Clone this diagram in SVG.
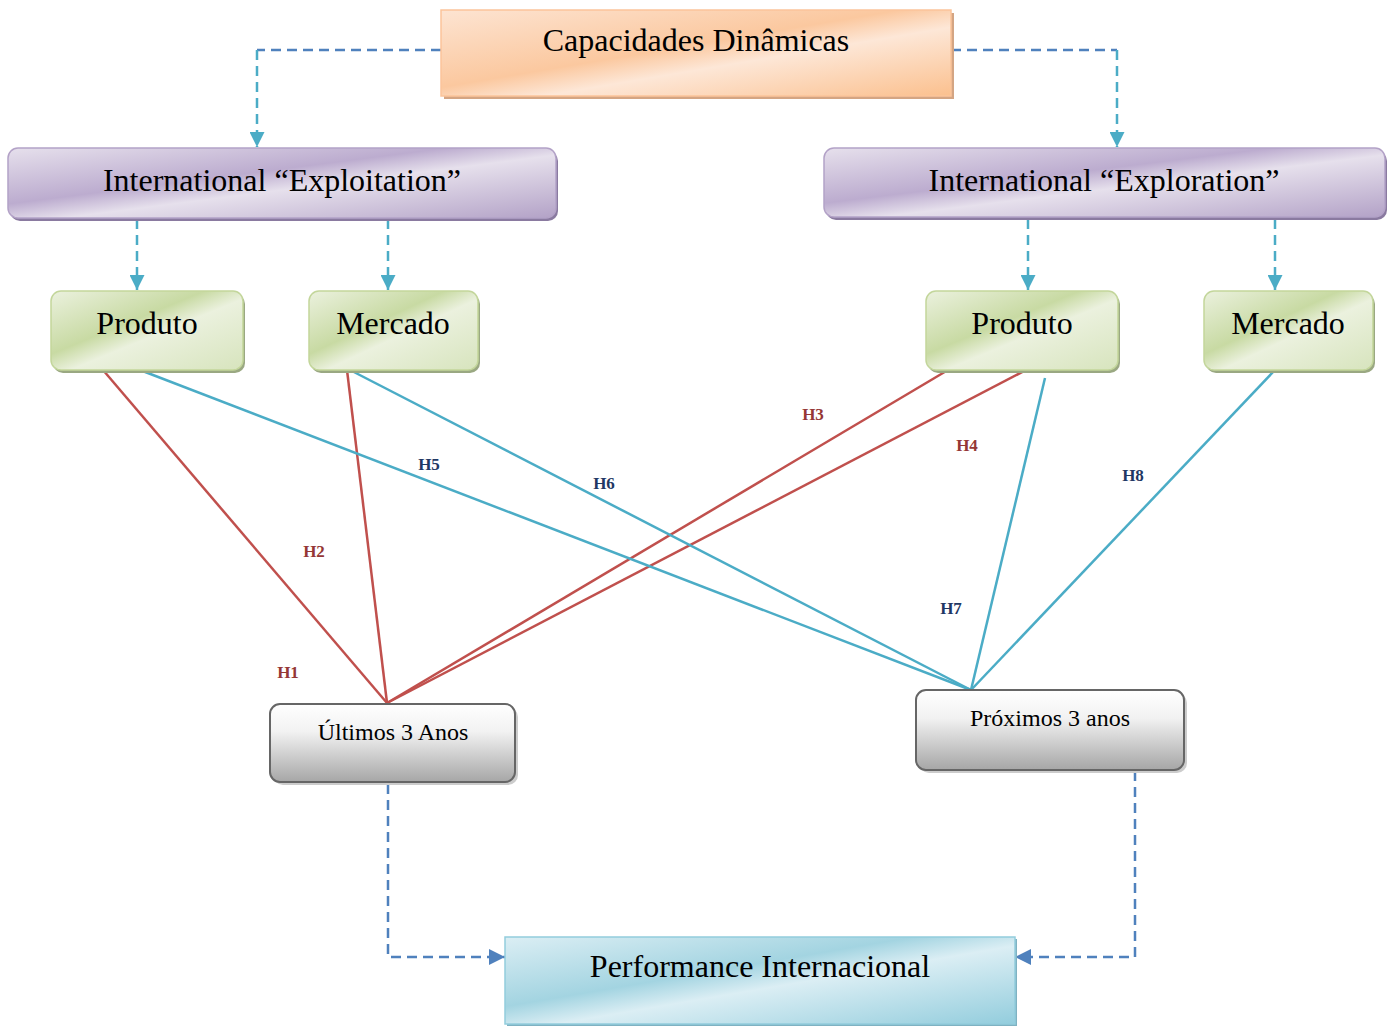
<svg xmlns="http://www.w3.org/2000/svg" width="1395" height="1026" viewBox="0 0 1395 1026">
  <defs>
    <linearGradient id="gOrange" x1="0" y1="0" x2="1" y2="1">
      <stop offset="0" stop-color="#fde4d2"/>
      <stop offset="0.45" stop-color="#fbc89f"/>
      <stop offset="0.6" stop-color="#fde7d7"/>
      <stop offset="1" stop-color="#fbc08e"/>
    </linearGradient>
    <linearGradient id="gPurple" x1="0" y1="0" x2="1" y2="1">
      <stop offset="0" stop-color="#e6e0ec"/>
      <stop offset="0.4" stop-color="#bcaccf"/>
      <stop offset="0.55" stop-color="#e6e0ec"/>
      <stop offset="1" stop-color="#b3a2c7"/>
    </linearGradient>
    <linearGradient id="gGreen" x1="0" y1="0" x2="1" y2="1">
      <stop offset="0" stop-color="#ebf1de"/>
      <stop offset="0.4" stop-color="#c8daa3"/>
      <stop offset="0.55" stop-color="#ebf1de"/>
      <stop offset="1" stop-color="#d7e4bd"/>
    </linearGradient>
    <linearGradient id="gGrey" x1="0" y1="0" x2="0" y2="1">
      <stop offset="0" stop-color="#ffffff"/>
      <stop offset="0.35" stop-color="#f2f2f2"/>
      <stop offset="1" stop-color="#a6a6a6"/>
    </linearGradient>
    <linearGradient id="gTeal" x1="0" y1="0" x2="1" y2="1">
      <stop offset="0" stop-color="#dbeef4"/>
      <stop offset="0.4" stop-color="#a3d4e1"/>
      <stop offset="0.55" stop-color="#dbeef4"/>
      <stop offset="1" stop-color="#93cddd"/>
    </linearGradient>
    <marker id="arrTeal" viewBox="0 0 10 10" refX="10" refY="5" markerWidth="15" markerHeight="15" markerUnits="userSpaceOnUse" orient="auto">
      <path d="M0,0 L10,5 L0,10 z" fill="#4bacc6"/>
    </marker>
    <marker id="arrBlue" viewBox="0 0 10 10" refX="10" refY="5" markerWidth="16" markerHeight="16" markerUnits="userSpaceOnUse" orient="auto">
      <path d="M0,0 L10,5 L0,10 z" fill="#4f81bd"/>
    </marker>
  </defs>
  <style>
    text { font-family: "Liberation Serif", "Times New Roman", serif; fill: #000; text-anchor: middle; }
    .big { font-size: 32px; }
    .small { font-size: 24px; }
    .hl { font-size: 17px; font-weight: bold; }
    .hr { fill: #953735; }
    .hb { fill: #1f3864; }
    .dashT { fill: none; stroke: #4bacc6; stroke-width: 2.5; stroke-dasharray: 10 6; }
    .dashB { fill: none; stroke: #4f81bd; stroke-width: 2.5; stroke-dasharray: 10 6; }
    .red { stroke: #c0504d; stroke-width: 2.5; fill: none; }
    .cyan { stroke: #4bacc6; stroke-width: 2.5; fill: none; }
  </style>
  <rect width="1395" height="1026" fill="#ffffff"/>

  <!-- connectors -->
  <g id="connectors">
    <path class="dashB" d="M441,50 H257"/>
    <path class="dashT" d="M257,50 V147" marker-end="url(#arrTeal)"/>
    <path class="dashB" d="M951,50 H1117"/>
    <path class="dashT" d="M1117,50 V147" marker-end="url(#arrTeal)"/>
    <path class="dashT" d="M137,219 V290" marker-end="url(#arrTeal)"/>
    <path class="dashT" d="M388,219 V290" marker-end="url(#arrTeal)"/>
    <path class="dashT" d="M1028,219 V290" marker-end="url(#arrTeal)"/>
    <path class="dashT" d="M1275,219 V290" marker-end="url(#arrTeal)"/>

    <line class="red" x1="103" y1="370" x2="387" y2="703"/>
    <line class="red" x1="347" y1="370" x2="387" y2="703"/>
    <line class="red" x1="948" y1="370" x2="387" y2="703"/>
    <line class="red" x1="1028" y1="369" x2="387" y2="703"/>
    <line class="cyan" x1="140" y1="370" x2="971" y2="690"/>
    <line class="cyan" x1="350" y1="370" x2="971" y2="690"/>
    <line class="cyan" x1="1045" y1="378" x2="971" y2="690"/>
    <line class="cyan" x1="1275" y1="370" x2="971" y2="690"/>

    <path class="dashB" d="M388,784 V957 H505" marker-end="url(#arrBlue)"/>
    <path class="dashB" d="M1135,771 V957 H1015" marker-end="url(#arrBlue)"/>

    <text class="hl hr" x="288" y="678">H1</text>
    <text class="hl hr" x="314" y="557">H2</text>
    <text class="hl hr" x="813" y="420">H3</text>
    <text class="hl hr" x="967" y="451">H4</text>
    <text class="hl hb" x="429" y="470">H5</text>
    <text class="hl hb" x="604" y="489">H6</text>
    <text class="hl hb" x="951" y="614">H7</text>
    <text class="hl hb" x="1133" y="481">H8</text>
  </g>

  <g id="capacidades">
    <rect x="444" y="13" width="510" height="86" fill="#d4a583"/>
    <rect x="441" y="10" width="510" height="86" fill="url(#gOrange)" stroke="#fbc49a" stroke-width="1.5"/>
    <text class="big" x="696" y="51">Capacidades Dinâmicas</text>
  </g>

  <g id="exploitation">
    <rect x="10" y="151" width="548" height="70" rx="10" fill="#8a7aa0"/>
    <rect x="8" y="148" width="548" height="70" rx="10" fill="url(#gPurple)" stroke="#b3a2c7" stroke-width="1.5"/>
    <text class="big" x="282" y="191">International “Exploitation”</text>
  </g>

  <g id="exploration">
    <rect x="826" y="151" width="561" height="69" rx="10" fill="#8a7aa0"/>
    <rect x="824" y="148" width="561" height="69" rx="10" fill="url(#gPurple)" stroke="#b3a2c7" stroke-width="1.5"/>
    <text class="big" x="1104" y="191">International “Exploration”</text>
  </g>

  <g id="produto-left">
    <rect x="53" y="294" width="192" height="79" rx="10" fill="#9aa882"/>
    <rect x="51" y="291" width="192" height="79" rx="10" fill="url(#gGreen)" stroke="#c3d69b" stroke-width="1.5"/>
    <text class="big" x="147" y="334">Produto</text>
  </g>

  <g id="mercado-left">
    <rect x="311" y="294" width="169" height="79" rx="10" fill="#9aa882"/>
    <rect x="309" y="291" width="169" height="79" rx="10" fill="url(#gGreen)" stroke="#c3d69b" stroke-width="1.5"/>
    <text class="big" x="393" y="334">Mercado</text>
  </g>

  <g id="produto-right">
    <rect x="928" y="294" width="192" height="79" rx="10" fill="#9aa882"/>
    <rect x="926" y="291" width="192" height="79" rx="10" fill="url(#gGreen)" stroke="#c3d69b" stroke-width="1.5"/>
    <text class="big" x="1022" y="334">Produto</text>
  </g>

  <g id="mercado-right">
    <rect x="1206" y="294" width="169" height="79" rx="10" fill="#9aa882"/>
    <rect x="1204" y="291" width="169" height="79" rx="10" fill="url(#gGreen)" stroke="#c3d69b" stroke-width="1.5"/>
    <text class="big" x="1288" y="334">Mercado</text>
  </g>

  <g id="ultimos">
    <rect x="273" y="707" width="245" height="78" rx="10" fill="#cccccc"/>
    <rect x="270" y="704" width="245" height="78" rx="10" fill="url(#gGrey)" stroke="#666666" stroke-width="2"/>
    <text class="small" x="393" y="740">Últimos 3 Anos</text>
  </g>

  <g id="proximos">
    <rect x="919" y="693" width="268" height="80" rx="10" fill="#cccccc"/>
    <rect x="916" y="690" width="268" height="80" rx="10" fill="url(#gGrey)" stroke="#666666" stroke-width="2"/>
    <text class="small" x="1050" y="726">Próximos 3 anos</text>
  </g>

  <g id="performance">
    <rect x="507" y="939" width="510" height="87" fill="#7fb2c2"/>
    <rect x="505" y="937" width="510" height="87" fill="url(#gTeal)" stroke="#93cddd" stroke-width="1.5"/>
    <text class="big" x="760" y="977">Performance Internacional</text>
  </g>
</svg>
